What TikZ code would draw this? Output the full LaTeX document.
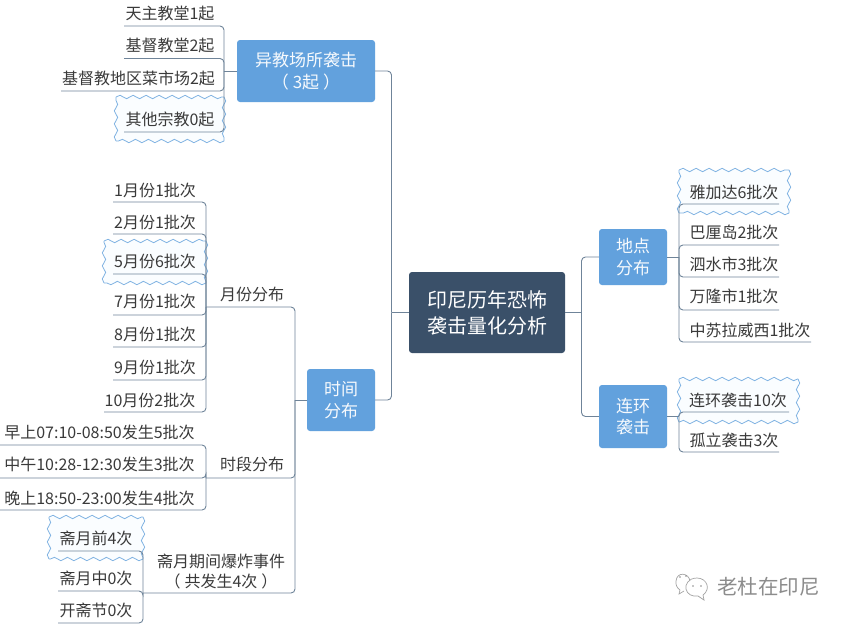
\documentclass[tikz,border=0pt]{standalone}
\usepackage{fontspec}
\setmainfont{Noto Sans CJK SC}
\usetikzlibrary{decorations.pathmorphing}
\definecolor{rootc}{HTML}{3A5069}
\definecolor{boxc}{HTML}{62A1DD}
\definecolor{linec}{HTML}{6F8499}
\definecolor{textc}{HTML}{3A3A3A}
\definecolor{wavec}{HTML}{7FB2E2}
\definecolor{wavef}{HTML}{FAFDFF}
\definecolor{markc}{HTML}{8C8C8C}
\tikzset{
  rootbox/.style={fill=rootc,rounded corners=3pt,text=white,font=\fontsize{20}{26}\selectfont,align=center,minimum width=156pt,minimum height=81pt,inner sep=0pt},
  topicbox/.style={fill=boxc,rounded corners=3pt,text=white!95!boxc,font=\fontsize{17}{21.5}\selectfont,align=center,inner sep=0pt},
  leaf/.style={text=textc,font=\fontsize{16}{20}\selectfont,align=center,inner sep=0pt},
  wavebox/.style={fill=wavef,inner sep=0pt,outer sep=0pt},
  waveline/.style={draw=wavec,line width=.8pt,decorate,decoration={snake,segment length=13pt,amplitude=1.7pt}},
  conn/.style={draw=linec,line width=.9pt,rounded corners=4pt},
  wmtext/.style={text=markc,font=\fontsize{20.5}{24}\selectfont,inner sep=0pt},
  markline/.style={draw=markc!80,line width=.7pt}
}
\newcommand{\leafnode}[5]{% name, text cx, text cy, end x, end y
  \node[leaf] (#1) at (#2,#3) {#5};
  \coordinate (#1-e) at (#4);}
\newcommand{\wavenode}[5]{% name, cx, cy, width, height
  \node[wavebox,minimum width=#4pt,minimum height=#5pt] (#1) at (#2,#3) {};
  \draw[waveline] (#1.north west) -- (#1.north east);
  \draw[waveline] (#1.north east) -- (#1.south east);
  \draw[waveline] (#1.south east) -- (#1.south west);
  \draw[waveline] (#1.south west) -- (#1.north west);}
\begin{document}
\begin{tikzpicture}[x=1pt,y=-1pt]
\useasboundingbox[fill=white] (0,0) rectangle (848,624);

% wave backgrounds
\wavenode{w1}{170}{119}{108}{44}
\wavenode{w2}{155}{262}{102}{42}
\wavenode{w3}{96}{538}{94}{42}
\wavenode{w4}{734}{191.5}{110}{43}
\wavenode{w5}{738.5}{400.5}{119}{43}

% main nodes
\node[rootbox] (root) at (487,312.5) {印尼历年恐怖\\袭击量化分析};
\node[topicbox,minimum width=138pt,minimum height=62pt] (yijiao) at (306,71) {异教场所袭击\\（\hspace{4pt}3起\hspace{4pt}）};
\node[topicbox,minimum width=68pt,minimum height=62pt] (shijian) at (341,400) {时间\\分布};
\node[topicbox,minimum width=68pt,minimum height=56pt] (didian) at (633,257) {地点\\分布};
\node[topicbox,minimum width=68pt,minimum height=63pt] (lianhuan) at (633,416.5) {连环\\袭击};

% hubs
\coordinate (hubL) at (391.5,312.5);
\coordinate (hubR) at (581.5,312.5);
\coordinate (hubA) at (224,71);
\coordinate (hubT) at (295,400);
\coordinate (hubD) at (679,257);
\coordinate (hubH) at (679,416.5);

% leaves
\leafnode{a1}{170}{13}{124,26}{天主教堂1起}
\leafnode{a2}{170}{45.5}{124,58.5}{基督教堂2起}
\leafnode{a3}{138.5}{78}{61,91}{基督教地区菜市场2起}
\leafnode{a4}{170}{119}{124,132}{其他宗教0起}

\leafnode{mon}{252}{294}{206,307}{月份分布}
\leafnode{m1}{155}{190}{113,202}{1月份1批次}
\leafnode{m2}{155}{222}{113,234}{2月份1批次}
\leafnode{m5}{155}{261}{113,274}{5月份6批次}
\leafnode{m7}{155}{301}{113,315}{7月份1批次}
\leafnode{m8}{155}{334}{113,347}{8月份1批次}
\leafnode{m9}{155}{367}{113,380}{9月份1批次}
\leafnode{m10}{150}{400}{104,412}{10月份2批次}

\leafnode{per}{252}{464}{206,478}{时段分布}
\leafnode{p1}{99.5}{432}{0,445}{早上07:10-08:50发生5批次}
\leafnode{p2}{99.5}{464}{0,478}{中午10:28-12:30发生3批次}
\leafnode{p3}{99.5}{498}{0,510}{晚上18:50-23:00发生4批次}

\leafnode{ram}{221}{571}{143,593}{斋月期间爆炸事件\\（\hspace{4pt}共发生4次\hspace{4pt}）}
\leafnode{r1}{96}{538}{58,551}{斋月前4次}
\leafnode{r2}{96}{578}{58,591}{斋月中0次}
\leafnode{r3}{96}{610}{58,623}{开斋节0次}

\leafnode{d1}{734}{192}{779,204}{雅加达6批次}
\leafnode{d2}{734}{232}{779,245}{巴厘岛2批次}
\leafnode{d3}{734}{264}{779,277}{泗水市3批次}
\leafnode{d4}{734}{296}{779,310}{万隆市1批次}
\leafnode{d5}{750}{330}{811,342}{中苏拉威西1批次}
\leafnode{h1}{738}{400}{789,412}{连环袭击10次}
\leafnode{h2}{734}{440}{779,452}{孤立袭击3次}

% hubs of the second level
\coordinate (hubM) at (206,307);
\coordinate (hubP) at (206,478);
\coordinate (hubR2) at (143,593);

% connectors: root
\draw[conn] (root.west) -- (hubL);
\draw[conn] (hubL) |- (yijiao.east);
\draw[conn] (hubL) |- (shijian.east);
\draw[conn] (root.east) -- (hubR);
\draw[conn] (hubR) |- (didian.west);
\draw[conn] (hubR) |- (lianhuan.west);

% connectors: religious sites
\draw[conn] (yijiao.west) -- (hubA);
\foreach \n in {a1,a2,a3,a4} \draw[conn] (hubA) |- (\n-e);

% connectors: time
\draw[conn] (shijian.west) -- (hubT);
\foreach \n in {mon,per,ram} \draw[conn] (hubT) |- (\n-e);
\foreach \n in {m1,m2,m5,m7,m8,m9,m10} \draw[conn] (hubM) |- (\n-e);
\foreach \n in {p1,p2,p3} \draw[conn] (hubP) |- (\n-e);
\foreach \n in {r1,r2,r3} \draw[conn] (hubR2) |- (\n-e);

% connectors: right side
\draw[conn] (didian.east) -- (hubD);
\foreach \n in {d1,d2,d3,d4,d5} \draw[conn] (hubD) |- (\n-e);
\draw[conn] (lianhuan.east) -- (hubH);
\foreach \n in {h1,h2} \draw[conn] (hubH) |- (\n-e);

% watermark
\node[wmtext] (wm) at (768.5,587) {老杜在印尼};
\draw[markline] (690,581) .. controls (689,573) and (677,571) .. (676,581)
  .. controls (675.5,585) and (677,588) .. (680,590) -- (679,594) -- (684,591);
\draw[markline,fill=white] (697,578) .. controls (688,578) and (685,585) .. (686,589)
  .. controls (687,594) and (692,597) .. (698,596) -- (704,600) -- (703,595)
  .. controls (707,592) and (708,588) .. (707,585)
  .. controls (706,581) and (702,578) .. (697,578) -- cycle;
\fill[markc] (680,577) circle (.8pt) (686,576) circle (.8pt) (693,586) circle (.8pt) (701,586) circle (.8pt);
\end{tikzpicture}
\end{document}
